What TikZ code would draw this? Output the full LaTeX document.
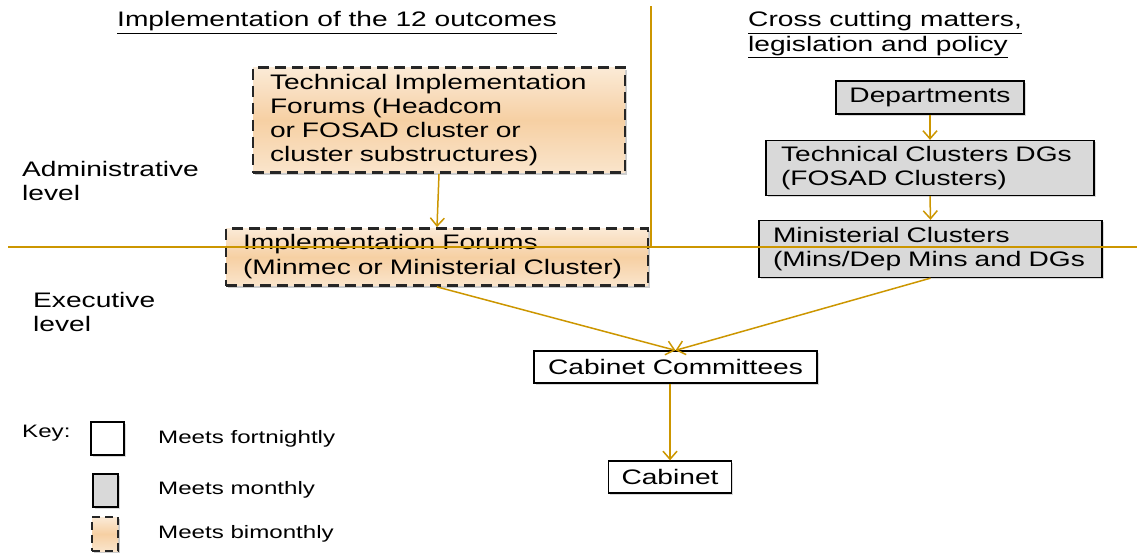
\documentclass[tikz,border=0pt]{standalone}
\usepackage{fontspec}
\setmainfont{Liberation Sans}[FakeStretch=1.34]
\usetikzlibrary{arrows.meta,shadows}
\definecolor{gold}{RGB}{204,150,0}
\definecolor{boxgray}{RGB}{217,217,217}
\definecolor{peach}{RGB}{244,196,140}
\newcommand\bigfs{\fontsize{21}{24}\selectfont}
\newcommand\keyfs{\fontsize{18}{21}\selectfont}
\tikzset{
  lbl/.style={font=\bigfs, inner sep=0pt},
  keylbl/.style={font=\keyfs, inner sep=0pt, anchor=west},
  plainbox/.style={draw=black, line width=1.3pt, fill=white, font=\bigfs, inner sep=0pt,
     drop shadow={shadow xshift=1.5pt, shadow yshift=-1.5pt, opacity=0.3}},
  graybox/.style={plainbox, fill=boxgray},
  bibox/.style={draw=black!85, line width=2.8pt, dash pattern=on 11pt off 6pt,
     top color=peach!35, bottom color=peach!45, middle color=peach!80,
     font=\bigfs, inner ysep=0pt, align=left,
     drop shadow={shadow xshift=2pt, shadow yshift=-2pt, opacity=0.4}},
  conn/.style={draw=gold, line width=1.5pt, -{Straight Barb[length=8pt,width=14pt]}},
  axisline/.style={draw=gold, line width=1.5pt}
}
\begin{document}
\begin{tikzpicture}[x=1pt,y=-1pt]
\useasboundingbox (0,0) rectangle (1137,554);

% headings
\node[lbl, anchor=base west] (t1) at (117,27) {\underline{Implementation of the 12 outcomes}};
\node[lbl, anchor=base west] (t2) at (748,27) {\underline{Cross cutting matters,}};
\node[lbl, anchor=base west] (t3) at (748,51) {\underline{legislation and policy}};
\node[lbl, anchor=base west] (adm1) at (22,176) {Administrative};
\node[lbl, anchor=base west] (adm2) at (22,200) {level};
\node[lbl, anchor=base west] (exe1) at (33,307) {Executive};
\node[lbl, anchor=base west] (exe2) at (33,331) {level};

% bimonthly boxes
\node[bibox, minimum width=372, minimum height=105, text width=338, inner xsep=17] (tif) at (439,120)
  {Technical Implementation\\Forums (Headcom\\or FOSAD cluster or\\cluster substructures)};
\node[bibox, minimum width=422, minimum height=57, text width=388, inner xsep=17,
  font=\fontsize{21}{25}\selectfont] (if) at (437,257)
  {Implementation Forums\\(Minmec or Ministerial Cluster)};

% gray boxes
\node[graybox, minimum width=188, minimum height=33] (dep) at (930,97.5) {Departments};
\node[graybox, minimum width=328, minimum height=55, text width=298, inner xsep=15, align=left] (tc) at (930,168)
  {Technical Clusters DGs\\(FOSAD Clusters)};
\node[graybox, minimum width=343, minimum height=57, text width=315, inner xsep=14, align=left] (mc) at (930.5,249)
  {Ministerial Clusters\\(Mins/Dep Mins and DGs};

% white boxes
\node[plainbox, minimum width=283, minimum height=32] (cc) at (675.5,367) {Cabinet Committees};
\node[plainbox, minimum width=123, minimum height=32] (cab) at (670,477) {Cabinet};

% axes (drawn over the boxes)
\coordinate (hl) at (8,247);
\coordinate (hr) at (1137,247);
\coordinate (vt) at (651,6);
\coordinate (vb) at (651,247);
\draw[axisline] (hl) -- (hr);
\draw[axisline] (vt) -- (vb);

% connectors
\draw[conn] (tif.south) -- (if.north);
\draw[conn] (dep.south) -- (tc.north);
\draw[conn] (tc.south) -- (mc.north);
\draw[conn] (if.south) -- (cc.north);
\draw[conn] (mc.south) -- (cc.north);
\draw[conn] (cab.north |- cc.south) -- (cab.north);

% key
\node[keylbl] (key) at (22,433) {Key:};
\node[plainbox, drop shadow={opacity=0}, minimum width=33, minimum height=33] (k1) at (107.5,438.5) {};
\node[graybox, drop shadow={opacity=0}, minimum width=25, minimum height=33] (k2) at (105.5,490.5) {};
\node[bibox, minimum width=26, minimum height=34, inner xsep=0pt, dash pattern=on 8pt off 5pt] (k3) at (105,534) {};
\node[keylbl] (k1t) at (158,439) {Meets fortnightly};
\node[keylbl] (k2t) at (158,490) {Meets monthly};
\node[keylbl] (k3t) at (158,534) {Meets bimonthly};
\end{tikzpicture}
\end{document}
